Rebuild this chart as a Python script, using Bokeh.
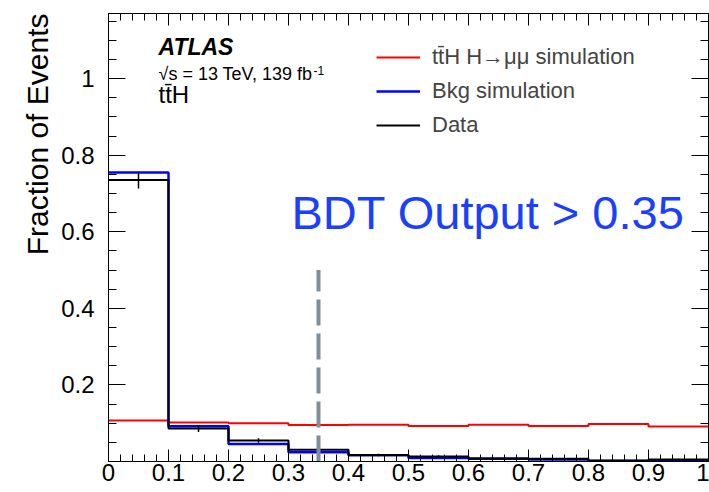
import numpy as np
from bokeh.plotting import figure
from bokeh.models import (Range1d, LinearAxis, FixedTicker, Label, Legend,
                          LegendItem, ColumnDataSource, Title)
from bokeh.embed import file_html
from bokeh.resources import INLINE

# ---------------- data ----------------
bin_edges = [0.0, 0.1, 0.2, 0.3, 0.4, 0.5, 0.6, 0.7, 0.8, 0.9, 1.0]
signal = [0.107, 0.102, 0.0996, 0.095, 0.096, 0.0925, 0.096, 0.093, 0.098, 0.0915]
background = [0.755, 0.092, 0.046, 0.024, 0.016, 0.009, 0.008, 0.005, 0.002, 0.002]
data = [0.735, 0.086, 0.055, 0.031, 0.017, 0.013, 0.007, 0.007, 0.002, 0.005]
data_err = [0.022, 0.009, 0.006, 0.004, 0.003, 0.003, 0.002, 0.002, 0.001, 0.002]

cut_value = 0.35
cut_line_top = 0.5

x_tick_values = [0.0, 0.1, 0.2, 0.3, 0.4, 0.5, 0.6, 0.7, 0.8, 0.9, 1.0]
x_tick_labels = ["0", "0.1", "0.2", "0.3", "0.4", "0.5", "0.6", "0.7", "0.8", "0.9", "1"]
y_tick_values = [0.0, 0.2, 0.4, 0.6, 0.8, 1.0]
y_tick_labels = ["", "0.2", "0.4", "0.6", "0.8", "1"]

legend_labels = ["tt\u0304H H\u2192\u03bc\u03bc simulation", "Bkg simulation", "Data"]
y_title = "Fraction of Events"
atlas_text = "ATLAS"
energy_text = "\u221as = 13 TeV, 139 fb"
energy_sup = "-1"
channel_text = "tt\u0304H"
cut_text = "BDT Output > 0.35"

FONT = "Liberation Sans"
X_MAX = 1.0
Y_MAX = 1.17

# ---------------- figure ----------------
p = figure(width=709, height=492, x_range=Range1d(0, X_MAX), y_range=Range1d(0, Y_MAX),
           output_backend="svg", toolbar_location=None,
           min_border_left=108, min_border_right=1, min_border_top=13, min_border_bottom=31)
p.grid.visible = False
p.outline_line_color = "black"
p.outline_line_width = 1
p.background_fill_color = "white"
p.border_fill_color = "white"

x_minor = [round(v, 3) for v in np.arange(0, 1.0001, 0.02)]
y_minor = [round(v, 3) for v in np.arange(0, Y_MAX, 0.05)]

def style_axis(ax, major_len, minor_len, labels=True):
    ax.axis_line_color = "black"
    ax.major_tick_line_color = "black"
    ax.minor_tick_line_color = "black"
    ax.major_tick_in = major_len
    ax.major_tick_out = 0
    ax.minor_tick_in = minor_len
    ax.minor_tick_out = 0
    ax.major_label_text_font = FONT
    ax.major_label_text_color = "black"
    if labels:
        ax.major_label_text_font_size = "24px"
    else:
        ax.major_label_text_font_size = "0px"
        ax.major_label_standoff = 0

# bottom axis
xa = p.xaxis[0]
xa.ticker = FixedTicker(ticks=x_tick_values, minor_ticks=x_minor)
xa.major_label_overrides = {v: l for v, l in zip(x_tick_values, x_tick_labels)}
style_axis(xa, 12, 7)
xa.major_label_standoff = 2

# left axis
ya = p.yaxis[0]
ya.ticker = FixedTicker(ticks=y_tick_values, minor_ticks=y_minor)
ya.major_label_overrides = {v: l for v, l in zip(y_tick_values, y_tick_labels)}
style_axis(ya, 17, 8)
ya.major_label_standoff = 14

# y-axis title placed at the top end of the left side
p.add_layout(Title(text=y_title, align="right", text_font=FONT, text_font_size="30px",
                   text_font_style="normal", text_color="black", standoff=10), "left")

# top and right axes (ticks only)
top = LinearAxis(ticker=FixedTicker(ticks=x_tick_values, minor_ticks=x_minor))
style_axis(top, 12, 7, labels=False)
top.major_label_overrides = {v: "" for v in x_tick_values}
p.add_layout(top, "above")
right = LinearAxis(ticker=FixedTicker(ticks=y_tick_values, minor_ticks=y_minor))
style_axis(right, 17, 8, labels=False)
right.major_label_overrides = {v: "" for v in y_tick_values}
p.add_layout(right, "right")

# ---------------- histograms ----------------
def step_xy(edges, vals):
    xs, ys = [], []
    for i, v in enumerate(vals):
        xs += [edges[i], edges[i + 1]]
        ys += [v, v]
    return xs, ys

sx, sy = step_xy(bin_edges, signal)
r_sig = p.line(sx, sy, line_color="#ff0000", line_width=2)
bx, by = step_xy(bin_edges, background)
r_bkg = p.line(bx, by, line_color="#0000ff", line_width=2.5)
dx, dy = step_xy(bin_edges, data)
r_dat = p.line(dx, dy, line_color="black", line_width=2)

centers = [(bin_edges[i] + bin_edges[i + 1]) / 2 for i in range(len(data))]
err_src = ColumnDataSource(dict(x=centers,
                                lo=[d - e for d, e in zip(data, data_err)],
                                hi=[d + e for d, e in zip(data, data_err)]))
p.segment(x0="x", y0="lo", x1="x", y1="hi", source=err_src, line_color="black", line_width=1.5)

# cut line
p.line([cut_value, cut_value], [0, cut_line_top], line_color="#7f8f99", line_width=4,
       line_dash="26 8")

# ---------------- legend ----------------
legend = Legend(items=[LegendItem(label=legend_labels[0], renderers=[r_sig]),
                       LegendItem(label=legend_labels[1], renderers=[r_bkg]),
                       LegendItem(label=legend_labels[2], renderers=[r_dat])],
                location=(268, 321), orientation="vertical",
                border_line_color=None, background_fill_alpha=0,
                padding=0, margin=0, spacing=4,
                glyph_width=44, glyph_height=30, label_height=30, label_standoff=12,
                label_text_font=FONT, label_text_font_size="22px",
                label_text_baseline="middle")
p.add_layout(legend)

# ---------------- texts ----------------
def px_to_x(px):
    return (px - 108) / 600 * X_MAX

def py_to_y(py):
    return (461 - py) / 448 * Y_MAX

p.add_layout(Label(x=px_to_x(158), y=py_to_y(59), text=atlas_text,
                   text_font=FONT, text_font_size="23px", text_font_style="bold italic",
                   text_color="black"))
p.add_layout(Label(x=px_to_x(158), y=py_to_y(83), text=energy_text,
                   text_font=FONT, text_font_size="18px", text_color="black"))
p.add_layout(Label(x=px_to_x(313), y=py_to_y(74), text=energy_sup,
                   text_font=FONT, text_font_size="12px", text_color="black"))
p.add_layout(Label(x=px_to_x(158), y=py_to_y(107), text=channel_text,
                   text_font=FONT, text_font_size="24px", text_color="black"))
p.add_layout(Label(x=px_to_x(291), y=py_to_y(238), text=cut_text,
                   text_font=FONT, text_font_size="47px", text_color="#1a3fff"))

open("out.html", "w").write(file_html(p, INLINE))
